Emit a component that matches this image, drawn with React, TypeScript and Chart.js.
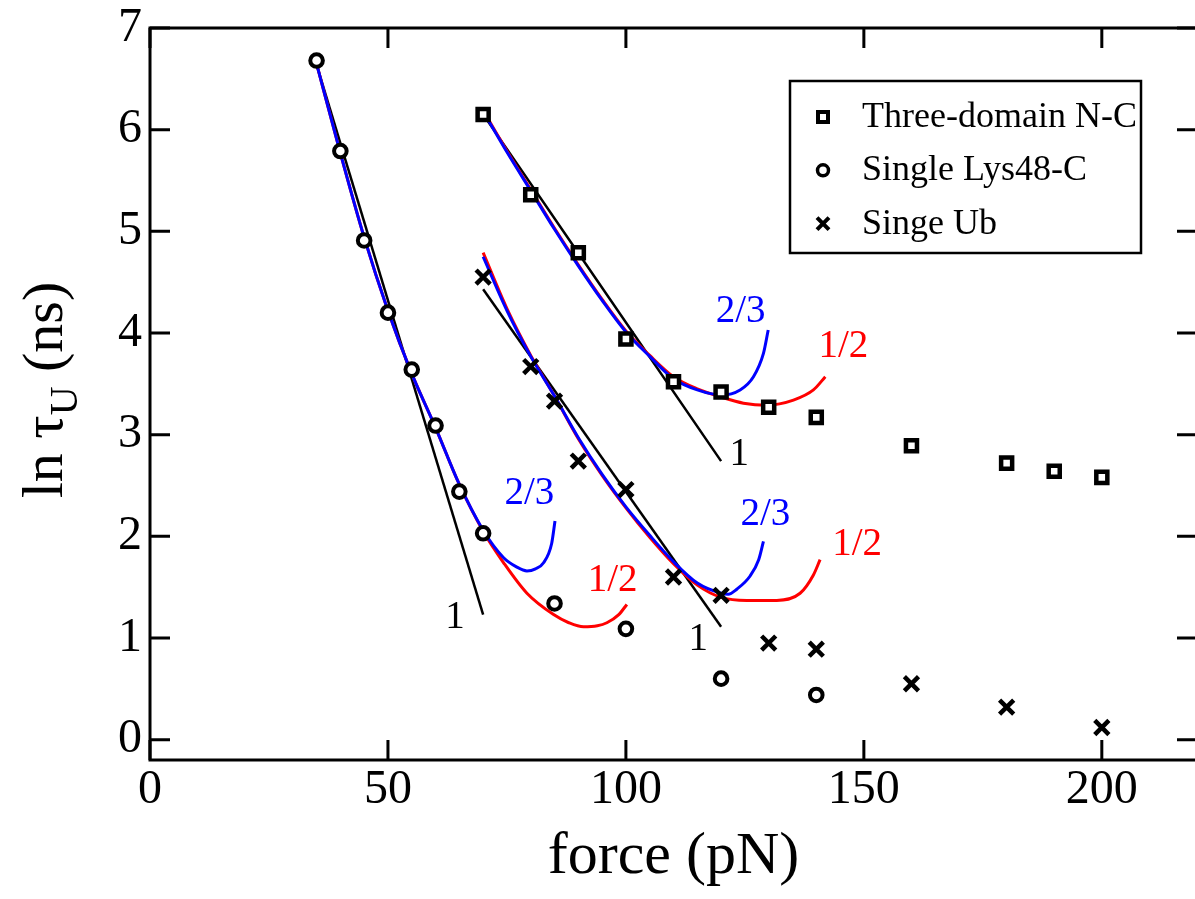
import React, { useEffect, useRef } from "react";
import { Chart, registerables } from "chart.js";

Chart.register(...registerables);

const FONT = '"Liberation Serif", "Times New Roman", Times, serif';

// ---- measured data (force in pN, ln tau_U in ns) ----
const forceNC = [70, 80, 90, 100, 110, 120, 130, 140, 160, 180, 190, 200];
const lnTauNC = [6.15, 5.36, 4.79, 3.94, 3.52, 3.42, 3.27, 3.17, 2.89, 2.72, 2.64, 2.58];

const forceLys = [35, 40, 45, 50, 55, 60, 65, 70, 85, 100, 120, 140];
const lnTauLys = [6.68, 5.79, 4.91, 4.2, 3.64, 3.09, 2.44, 2.03, 1.34, 1.09, 0.6, 0.44];

const forceUb = [70, 80, 85, 90, 100, 110, 120, 130, 140, 160, 180, 200];
const lnTauUb = [4.55, 3.67, 3.33, 2.74, 2.46, 1.6, 1.42, 0.95, 0.89, 0.55, 0.32, 0.12];

// ---- fitted curves ----
// Single Lys48-C
const lysNu1F = [35, 70];
const lysNu1Y = [6.64, 1.23];
const lysNu23F = [35, 40, 45, 50, 55, 60, 65, 70, 74.3, 77, 79.2, 81, 82.7, 84.4, 85.1];
const lysNu23Y = [6.65, 5.77, 4.94, 4.22, 3.6, 3.07, 2.51, 2.06, 1.79, 1.7, 1.66, 1.68, 1.74, 1.93, 2.15];
const lysNu12F = [35, 40, 45, 50, 55, 60, 65, 70, 74.3, 79.2, 84.8, 88, 91.1, 94, 96, 98.5, 100.2];
const lysNu12Y = [6.65, 5.77, 4.94, 4.22, 3.6, 3.07, 2.51, 2.05, 1.74, 1.44, 1.23, 1.15, 1.11, 1.12, 1.15, 1.23, 1.33];

// Single Ub
const ubNu1F = [70, 120];
const ubNu1Y = [4.43, 1.11];
const ubNu23F = [70, 75, 80, 85, 90, 95, 100, 105, 110, 115, 120, 121.5, 123.3, 126.1, 127.9, 128.9];
const ubNu23Y = [4.75, 4.22, 3.77, 3.38, 2.97, 2.61, 2.29, 2.01, 1.75, 1.54, 1.44, 1.43, 1.48, 1.61, 1.77, 1.95];
const ubNu12F = [70, 75, 80, 85, 90, 95, 100, 105, 110, 115, 120, 125.4, 128.2, 131.7, 136.6, 139.4, 140.8];
const ubNu12Y = [4.79, 4.24, 3.78, 3.38, 2.96, 2.6, 2.28, 1.99, 1.73, 1.52, 1.4, 1.37, 1.37, 1.37, 1.44, 1.62, 1.77];

// Three-domain N-C
const ncNu1F = [70, 120];
const ncNu1Y = [6.15, 2.74];
const ncNu23F = [70, 75, 80, 85, 90, 95, 100, 105, 110, 115, 120, 124, 126.8, 128.9, 129.9];
const ncNu23Y = [6.18, 5.78, 5.4, 5.02, 4.66, 4.32, 4.01, 3.77, 3.55, 3.44, 3.39, 3.44, 3.57, 3.8, 4.03];
const ncNu12F = [70, 75, 80, 85, 90, 95, 100, 105, 110, 115, 120, 124.7, 129.6, 135.2, 139.4, 141.9];
const ncNu12Y = [6.19, 5.79, 5.41, 5.03, 4.67, 4.33, 4.02, 3.78, 3.57, 3.45, 3.37, 3.31, 3.29, 3.34, 3.44, 3.57];

// ---- curve labels (text, anchor in data coordinates, exponent kind) ----
const fitLabelText = ["1", "2/3", "1/2", "1", "2/3", "1/2", "1", "2/3", "1/2"];
const fitLabelX = [64.1, 79.7, 97.2, 115.2, 129.3, 148.6, 123.8, 124.1, 145.7];
const fitLabelY = [1.2, 2.42, 1.56, 0.98, 2.21, 1.92, 2.8, 4.21, 3.86];
const fitLabelKind = ["nu1", "nu23", "nu12", "nu1", "nu23", "nu12", "nu1", "nu23", "nu12"];

// ---- axes ----
const xMin = 0;
const xMax = 220;
const xStep = 50;
const yMin = -0.2;
const yMax = 7;
const yStep = 1;

const seriesLabels = ["Three-domain N-C", "Single Lys48-C", "Singe Ub"];

const KIND_COLOR: Record<string, string> = { nu1: "#000000", nu23: "#0000ff", nu12: "#ff0000" };

function pts(xs: number[], ys: number[]) {
  return xs.map((x, i) => ({ x, y: ys[i] }));
}

function drawMarker(ctx: CanvasRenderingContext2D, kind: string, x: number, y: number) {
  ctx.save();
  ctx.strokeStyle = "#000";
  ctx.fillStyle = "#fff";
  if (kind === "rect") {
    ctx.lineWidth = 4;
    ctx.beginPath();
    ctx.rect(x - 5, y - 5, 10, 10);
    ctx.fill();
    ctx.stroke();
  } else if (kind === "circle") {
    ctx.lineWidth = 3.5;
    ctx.beginPath();
    ctx.arc(x, y, 5.5, 0, Math.PI * 2);
    ctx.fill();
    ctx.stroke();
  } else {
    ctx.lineWidth = 4;
    ctx.beginPath();
    ctx.moveTo(x - 6, y - 6);
    ctx.lineTo(x + 6, y + 6);
    ctx.moveTo(x + 6, y - 6);
    ctx.lineTo(x - 6, y + 6);
    ctx.stroke();
  }
  ctx.restore();
}

const framePlugin = {
  id: "frameAndDecor",
  afterDatasetsDraw(chart: any) {
    const { ctx, chartArea: a, scales } = chart;
    const xs = scales.x;
    const ys = scales.y;
    ctx.save();
    ctx.strokeStyle = "#000";
    ctx.lineWidth = 3;
    ctx.strokeRect(a.left, a.top, a.right - a.left, a.bottom - a.top);
    const T = 20;
    ctx.beginPath();
    xs.ticks.forEach((t: any) => {
      const p = xs.getPixelForValue(t.value);
      ctx.moveTo(p, a.bottom);
      ctx.lineTo(p, a.bottom - T);
      ctx.moveTo(p, a.top);
      ctx.lineTo(p, a.top + T);
    });
    ys.ticks.forEach((t: any) => {
      const p = ys.getPixelForValue(t.value);
      ctx.moveTo(a.left, p);
      ctx.lineTo(a.left + T, p);
      ctx.moveTo(a.right, p);
      ctx.lineTo(a.right - T, p);
    });
    ctx.stroke();

    // curve labels
    ctx.font = `39px ${FONT}`;
    ctx.textAlign = "center";
    ctx.textBaseline = "middle";
    fitLabelText.forEach((txt, i) => {
      ctx.fillStyle = KIND_COLOR[fitLabelKind[i]];
      ctx.fillText(txt, xs.getPixelForValue(fitLabelX[i]), ys.getPixelForValue(fitLabelY[i]));
    });

    // legend
    const lx = 790;
    const ly = 81;
    const lw = 351;
    const lh = 172;
    ctx.fillStyle = "#fff";
    ctx.fillRect(lx, ly, lw, lh);
    ctx.lineWidth = 2.5;
    ctx.strokeStyle = "#000";
    ctx.strokeRect(lx, ly, lw, lh);
    const kinds = ["rect", "circle", "cross"];
    ctx.font = `36px ${FONT}`;
    ctx.textAlign = "left";
    ctx.textBaseline = "alphabetic";
    seriesLabels.forEach((lab, i) => {
      const ry = ly + 36 + i * 53.3;
      drawMarker(ctx, kinds[i], lx + 33, ry);
      ctx.fillStyle = "#000";
      ctx.fillText(lab, lx + 72, ry + 10);
    });

    // y-axis title with subscript
    const fs = 58;
    const fsSub = 40;
    ctx.font = `${fs}px ${FONT}`;
    const p1 = "ln \u03c4";
    const p3 = " (ns)";
    const w1 = ctx.measureText(p1).width;
    const w3 = ctx.measureText(p3).width;
    ctx.font = `${fsSub}px ${FONT}`;
    const w2 = ctx.measureText("U").width;
    const total = w1 + w2 + w3;
    const cy = (a.top + a.bottom) / 2 - 4;
    ctx.translate(62, cy + total / 2);
    ctx.rotate(-Math.PI / 2);
    ctx.fillStyle = "#000";
    ctx.textAlign = "left";
    ctx.textBaseline = "alphabetic";
    ctx.font = `${fs}px ${FONT}`;
    ctx.fillText(p1, 0, 0);
    ctx.font = `${fsSub}px ${FONT}`;
    ctx.fillText("U", w1, 15);
    ctx.font = `${fs}px ${FONT}`;
    ctx.fillText(p3, w1 + w2, 0);
    ctx.restore();
  },
};

export default function App() {
  const ref = useRef<HTMLCanvasElement | null>(null);

  useEffect(() => {
    if (!ref.current) return;
    const line = (xs: number[], ys: number[], color: string, width: number, order: number) => ({
      type: "scatter" as const,
      data: pts(xs, ys),
      showLine: true,
      borderColor: color,
      backgroundColor: color,
      borderWidth: width,
      pointRadius: 0,
      pointHoverRadius: 0,
      cubicInterpolationMode: "monotone" as const,
      fill: false,
      order,
    });
    const marks = (xs: number[], ys: number[], label: string, style: string, radius: number, bw: number) => ({
      type: "scatter" as const,
      label,
      data: pts(xs, ys),
      showLine: false,
      pointStyle: style,
      pointRadius: radius,
      pointHoverRadius: radius,
      pointBorderWidth: bw,
      pointBorderColor: "#000",
      pointBackgroundColor: "#fff",
      borderColor: "#000",
      backgroundColor: "#fff",
      order: 0,
    });

    const chart = new Chart(ref.current, {
      type: "scatter",
      data: {
        datasets: [
          marks(forceNC, lnTauNC, seriesLabels[0], "rect", 7.8, 4.5),
          marks(forceLys, lnTauLys, seriesLabels[1], "circle", 6.3, 4),
          marks(forceUb, lnTauUb, seriesLabels[2], "crossRot", 10, 4.5),
          line(lysNu23F, lysNu23Y, "#0000ff", 3, 1),
          line(ubNu23F, ubNu23Y, "#0000ff", 3, 1),
          line(ncNu23F, ncNu23Y, "#0000ff", 3, 1),
          line(lysNu12F, lysNu12Y, "#ff0000", 3, 2),
          line(ubNu12F, ubNu12Y, "#ff0000", 3, 2),
          line(ncNu12F, ncNu12Y, "#ff0000", 3, 2),
          line(lysNu1F, lysNu1Y, "#000000", 2.5, 3),
          line(ubNu1F, ubNu1Y, "#000000", 2.5, 3),
          line(ncNu1F, ncNu1Y, "#000000", 2.5, 3),
        ] as any,
      },
      options: {
        animation: false,
        responsive: false,
        events: [],
        layout: { autoPadding: false, padding: { left: 0, top: 28, right: 3, bottom: 0 } },
        plugins: { legend: { display: false }, tooltip: { enabled: false } },
        scales: {
          x: {
            type: "linear",
            min: xMin,
            max: xMax,
            afterFit: (s: any) => {
              s.height = 139;
              s.paddingLeft = 0;
              s.paddingRight = 0;
            },
            grid: { display: false, drawTicks: false, tickLength: 0 },
            border: { display: false },
            ticks: {
              stepSize: xStep,
              includeBounds: false,
              padding: 2,
              color: "#000",
              maxRotation: 0,
              autoSkip: false,
              font: { family: FONT, size: 48, lineHeight: 1.2 },
            },
            title: {
              display: true,
              text: "force (pN)",
              color: "#000",
              font: { family: FONT, size: 60, lineHeight: 1.2 },
              padding: { top: 0, bottom: 6 },
            },
          },
          y: {
            type: "linear",
            min: yMin,
            max: yMax,
            afterFit: (s: any) => {
              s.width = 150;
              s.paddingTop = 0;
              s.paddingBottom = 0;
            },
            grid: { display: false, drawTicks: false, tickLength: 0 },
            border: { display: false },
            ticks: {
              stepSize: yStep,
              includeBounds: false,
              padding: 8,
              color: "#000",
              autoSkip: false,
              font: { family: FONT, size: 48, lineHeight: 1.0 },
            },
            title: { display: false },
          },
        },
      } as any,
      plugins: [framePlugin],
    });
    return () => chart.destroy();
  }, []);

  return (
    <div
      style={{
        position: "fixed",
        left: 0,
        top: 0,
        width: 1195,
        height: 899,
        overflow: "hidden",
        background: "#fff",
      }}
    >
      <canvas ref={ref} width={1200} height={899} style={{ display: "block" }} />
    </div>
  );
}
